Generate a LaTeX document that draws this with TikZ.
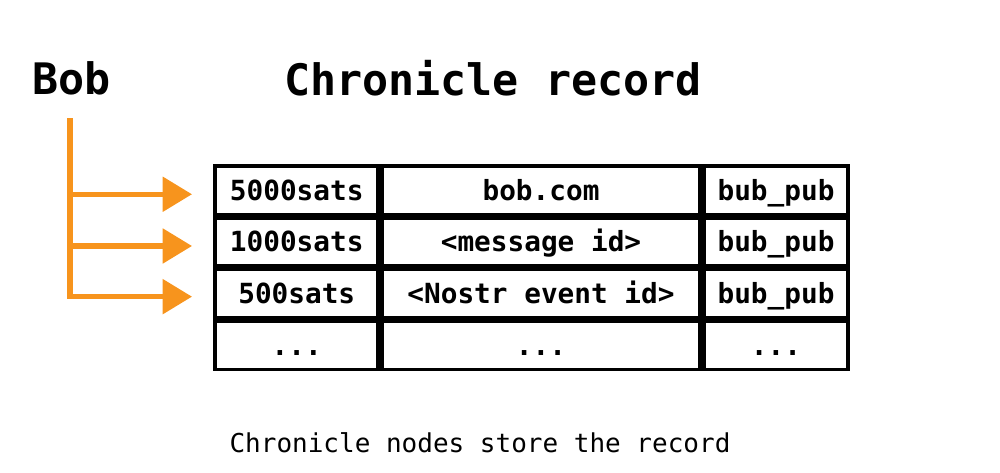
\documentclass[tikz,border=0pt]{standalone}
\usepackage{fontspec}
\setmonofont{DejaVu Sans Mono}
\usepackage{tikz}
\usetikzlibrary{arrows.meta,positioning}
\definecolor{bobOrange}{RGB}{247,148,29}

\begin{document}
\begin{tikzpicture}[x=0.75pt, y=-0.75pt, >={Triangle[length=22pt,width=25.5pt]}]
	\tikzset{cell/.style = {draw, line width=2.7pt, minimum height=36.1pt, inner sep=0pt,
			text height=15pt, text depth=0pt,
			font=\ttfamily\bfseries\fontsize{20.8}{24}\selectfont}}
	\tikzset{colA/.style = {cell, minimum width=122.2pt}}
	\tikzset{colB/.style = {cell, minimum width=238.8pt}}
	\tikzset{colC/.style = {cell, minimum width=108.3pt}}
	\tikzset{feed/.style = {->, bobOrange, line width=4pt, shorten >=16.1pt}}
	\useasboundingbox (0,0) rectangle (1000,472);

	% headings
	\node[anchor=base, font=\ttfamily\bfseries\fontsize{32.5}{39}\selectfont] (bob) at (71.5,94) {Bob};
	\node[anchor=base, font=\ttfamily\bfseries\fontsize{32.5}{39}\selectfont] (title) at (493,95) {Chronicle record};

	% record table
	\node[colA] (r1a) at (296.75,190.25) {5000sats};
	\node[colB, right=0pt of r1a] (r1b) {bob.com};
	\node[colC, right=0pt of r1b] (r1c) {bub\_pub};

	\node[colA, below=0pt of r1a] (r2a) {1000sats};
	\node[colB, right=0pt of r2a] (r2b) {<message id>};
	\node[colC, right=0pt of r2b] (r2c) {bub\_pub};

	\node[colA, below=0pt of r2a] (r3a) {500sats};
	\node[colB, right=0pt of r3a] (r3b) {<Nostr event id>};
	\node[colC, right=0pt of r3b] (r3c) {bub\_pub};

	\node[colA, below=0pt of r3a] (r4a) {...};
	\node[colB, right=0pt of r4a] (r4b) {...};
	\node[colC, right=0pt of r4b] (r4c) {...};

	% Bob's records
	\coordinate (trunk) at (70,118);
	\draw[feed] (trunk) |- ([yshift=-3pt]r1a.west);
	\draw[feed] (trunk) |- ([yshift=-3pt]r2a.west);
	\draw[feed] (trunk) |- ([yshift=-2.2pt]r3a.west);

	\node[anchor=base, font=\ttfamily\fontsize{19.5}{23}\selectfont] (note) at (480,452) {Chronicle nodes store the record};
\end{tikzpicture}
\end{document}
